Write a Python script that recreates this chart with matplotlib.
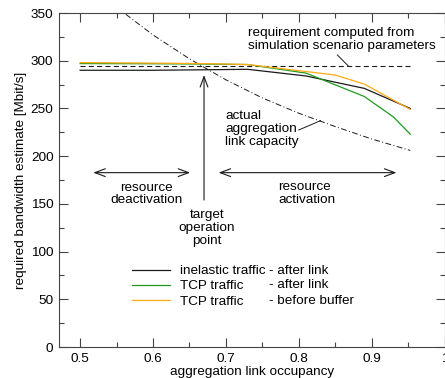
import matplotlib
matplotlib.use("Agg")
import matplotlib.pyplot as plt
from matplotlib.lines import Line2D
from matplotlib.ticker import MultipleLocator, FuncFormatter

plt.rcParams["font.family"] = ["Liberation Sans", "DejaVu Sans"]
plt.rcParams["font.size"] = 9.7

# ── data ───────────────────────────────────────────────────────────────────────
occ_inelastic = [0.50, 0.60, 0.67, 0.73, 0.81, 0.89, 0.953]
bw_inelastic  = [290, 290, 290.5, 291, 284, 271, 250]

occ_tcp_after = [0.50, 0.60, 0.67, 0.73, 0.81, 0.89, 0.93, 0.953]
bw_tcp_after  = [297, 296.8, 296.5, 296, 287, 262.5, 241, 223]

occ_tcp_before = [0.50, 0.60, 0.67, 0.73, 0.85, 0.89, 0.953]
bw_tcp_before  = [298, 297.5, 297, 296, 285, 275.5, 249]

occ_requirement = [0.50, 0.953]
bw_requirement  = [294, 294]

occ_capacity = [0.55, 0.60, 0.65, 0.70, 0.75, 0.80, 0.85, 0.90, 0.953]
bw_capacity  = [356, 327, 302, 280, 261, 245, 231, 218, 206]

TARGET_OCC = 0.67

C_BLACK  = "#1a1a1a"
C_GREEN  = "#1f9a1f"
C_ORANGE = "#ffa914"

LS = 1.08  # line spacing of the multi-line notes

# ── figure ─────────────────────────────────────────────────────────────────────
fig = plt.figure(figsize=(4.45, 3.78), dpi=100)
ax = fig.add_axes([59 / 445, 31 / 378, 385.5 / 445, 334 / 378])

ax.plot(occ_requirement, bw_requirement, color=C_BLACK, lw=0.8, dashes=(4.5, 3))
ax.plot(occ_capacity, bw_capacity, color=C_BLACK, lw=0.7, dashes=(6, 2.5, 1, 2.5))
ax.plot(occ_inelastic, bw_inelastic, color=C_BLACK, lw=0.9)
ax.plot(occ_tcp_after, bw_tcp_after, color=C_GREEN, lw=0.9)
ax.plot(occ_tcp_before, bw_tcp_before, color=C_ORANGE, lw=0.9)

ax.set_xlim(0.471, 1.0)
ax.set_ylim(0, 350)
ax.xaxis.set_major_locator(MultipleLocator(0.1))
ax.xaxis.set_minor_locator(MultipleLocator(0.05))
ax.yaxis.set_major_locator(MultipleLocator(50))
ax.yaxis.set_minor_locator(MultipleLocator(25))
ax.xaxis.set_major_formatter(FuncFormatter(lambda v, p: f"{v:g}"))
ax.tick_params(which="both", direction="in", top=True, right=True,
               color="#444444", width=0.8)
ax.tick_params(which="major", length=6.5, pad=4)
ax.tick_params(which="minor", length=3.5)
for sp in ax.spines.values():
    sp.set_color("#444444")
    sp.set_linewidth(0.8)

ax.set_xlabel("aggregation link occupancy", labelpad=1)
ax.set_ylabel("required bandwidth estimate [Mbit/s]", labelpad=3)

# ── annotations ────────────────────────────────────────────────────────────────
ax.text(0.731, 322, "requirement computed from\nsimulation scenario parameters",
        ha="left", va="center", linespacing=LS)
ax.plot([0.853, 0.868], [306, 294.5], color=C_BLACK, lw=0.7)

ax.text(0.699, 228.5, "actual\naggregation\nlink capacity",
        ha="left", va="center", linespacing=LS)
ax.plot([0.800, 0.830], [227.4, 237.2], color=C_BLACK, lw=0.7)

arrow = dict(lw=0.8, color=C_BLACK, shrinkA=0, shrinkB=0, mutation_scale=10)
ax.annotate("", xy=(0.518, 182.7), xytext=(0.651, 182.7),
            arrowprops=dict(arrowstyle="<->,head_length=0.75,head_width=0.28", **arrow))
ax.annotate("", xy=(0.690, 182.7), xytext=(0.934, 182.7),
            arrowprops=dict(arrowstyle="<->,head_length=0.75,head_width=0.28", **arrow))
ax.annotate("", xy=(TARGET_OCC, 285), xytext=(TARGET_OCC, 154),
            arrowprops=dict(arrowstyle="->,head_length=0.75,head_width=0.28", **arrow))

ax.text(0.591, 160.3, "resource\ndeactivation", ha="center", va="center",
        linespacing=LS)
ax.text(0.772, 161, "resource\nactivation", ha="left", va="center",
        linespacing=LS)
ax.text(0.674, 124.7, "target\noperation\npoint", ha="center", va="center",
        linespacing=LS)

# ── legend ─────────────────────────────────────────────────────────────────────
handles = [
    Line2D([], [], color=C_BLACK, lw=0.9),
    Line2D([], [], color=C_GREEN, lw=0.9),
    Line2D([], [], color=C_ORANGE, lw=0.9),
]
ax.legend(handles, ["inelastic traffic", "TCP traffic", "TCP traffic"],
          loc="upper left", bbox_to_anchor=(0.189, 0.246), frameon=False,
          borderpad=0, borderaxespad=0, handlelength=2.85, handletextpad=0.75,
          labelspacing=0.2)
for yy, suffix in [(0.2284, "- after link"), (0.1856, "- after link"),
                   (0.1386, "- before buffer")]:
    ax.text(0.545, yy, suffix, transform=ax.transAxes, ha="left", va="center")

fig.savefig("out.png", dpi=100)
